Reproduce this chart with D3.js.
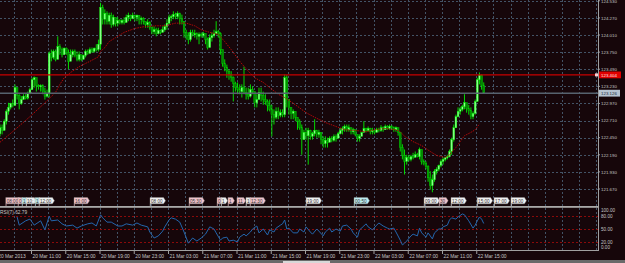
<!DOCTYPE html>
<html>
<head>
<script src="https://d3js.org/d3.v7.min.js"></script>
<style>
  body { margin: 0; background: #16060a; overflow: hidden; }
  svg text { font-family: "Liberation Sans", Arial, sans-serif; }
</style>
</head>
<body>
<script>
const width = 625, height = 263;
const plotRight = 598;

// M15 bars from 20 Mar 2013 07:00
const firstOpen = 122.45;
const closes = [
  122.51,122.60,122.56,122.70,122.85,122.91,122.97,122.94,123.21,123.09,
  122.97,123.03,123.08,123.05,123.12,123.18,123.33,123.36,123.24,123.23,
  123.24,123.15,123.08,123.12,123.73,123.67,123.76,123.64,123.84,123.79,
  123.71,123.81,123.74,123.61,123.71,123.76,123.70,123.64,123.71,123.64,
  123.70,123.76,123.73,123.79,123.76,123.81,123.79,123.87,124.43,124.25,
  124.34,124.22,124.31,124.17,124.28,124.19,124.23,124.20,124.23,124.20,
  124.28,124.31,124.26,124.31,124.28,124.31,124.25,124.26,124.22,124.17,
  124.20,124.12,124.06,124.09,124.03,124.08,124.05,124.09,124.14,124.19,
  124.28,124.29,124.32,124.29,124.34,124.26,124.22,124.05,124.00,123.94,
  124.05,124.02,124.03,123.99,124.02,124.00,124.03,123.94,123.82,123.97,
  124.00,124.03,124.06,124.03,123.79,123.58,123.52,123.46,123.41,123.36,
  123.27,123.21,123.18,123.15,123.21,123.14,123.11,123.08,123.18,123.15,
  122.98,123.03,123.14,123.09,123.03,123.00,122.94,122.88,122.80,122.76,
  122.85,122.79,122.83,122.80,123.36,123.03,122.91,122.82,122.85,122.76,
  122.70,122.60,122.42,122.53,122.48,122.56,122.47,122.51,122.56,122.50,
  122.53,122.42,122.36,122.41,122.38,122.44,122.41,122.47,122.44,122.51,
  122.56,122.59,122.62,122.57,122.60,122.54,122.57,122.50,122.44,122.47,
  122.53,122.59,122.56,122.59,122.54,122.56,122.53,122.57,122.56,122.60,
  122.57,122.62,122.59,122.62,122.60,122.57,122.60,122.53,122.30,122.18,
  122.09,122.15,122.12,122.16,122.15,122.19,122.16,122.27,122.09,122.06,
  122.01,121.84,121.72,121.81,121.94,121.97,122.03,122.09,122.12,122.15,
  122.16,122.24,122.42,122.60,122.77,122.85,122.88,122.92,122.98,122.89,
  122.86,122.77,122.82,123.00,123.33,123.40,123.24,123.13
];
const highs = [
  122.65,122.65,122.65,122.73,122.88,122.98,122.98,123.03,123.26,123.21,
  123.11,123.08,123.11,123.11,123.15,123.21,123.36,123.38,123.30,123.26,
  123.26,123.26,123.21,123.18,123.76,123.79,123.79,123.79,123.99,123.87,
  123.82,123.82,123.82,123.79,123.79,123.79,123.79,123.76,123.76,123.71,
  123.71,123.79,123.79,123.82,123.82,123.82,123.87,123.94,124.50,124.47,
  124.40,124.37,124.35,124.35,124.32,124.28,124.28,124.25,124.25,124.28,
  124.32,124.35,124.32,124.35,124.32,124.32,124.29,124.29,124.28,124.22,
  124.25,124.22,124.14,124.14,124.12,124.12,124.09,124.14,124.17,124.25,
  124.32,124.32,124.37,124.35,124.37,124.35,124.32,124.22,124.09,124.05,
  124.09,124.09,124.09,124.05,124.05,124.05,124.06,124.02,123.97,124.02,
  124.05,124.09,124.22,124.09,124.05,123.79,123.64,123.56,123.49,123.46,
  123.38,123.30,123.29,123.26,123.26,123.53,123.21,123.21,123.26,123.23,
  123.15,123.11,123.21,123.21,123.15,123.11,123.03,123.03,122.95,122.88,
  122.91,122.91,122.88,122.88,123.41,123.40,123.03,122.91,122.88,122.85,
  122.76,122.73,122.65,122.57,122.60,122.60,122.57,122.54,122.73,122.57,
  122.57,122.53,122.47,122.47,122.45,122.47,122.47,122.50,122.50,122.54,
  122.60,122.62,122.65,122.65,122.65,122.60,122.60,122.57,122.50,122.50,
  122.54,122.70,122.60,122.62,122.60,122.60,122.57,122.60,122.60,122.64,
  122.62,122.65,122.64,122.65,122.64,122.62,122.62,122.60,122.53,122.35,
  122.27,122.19,122.19,122.19,122.22,122.24,122.22,122.30,122.27,122.12,
  122.09,122.03,121.94,121.89,121.97,122.00,122.04,122.12,122.15,122.16,
  122.19,122.27,122.45,122.65,122.80,122.91,122.92,122.95,123.11,122.98,
  122.95,122.91,122.85,123.03,123.36,123.44,123.41,123.29
];
const lows = [
  122.47,122.47,122.50,122.57,122.65,122.80,122.88,122.91,122.95,123.03,
  122.88,122.95,123.03,123.03,123.03,123.11,123.18,123.21,123.15,123.18,
  123.15,123.11,123.03,123.06,123.06,123.61,123.64,123.61,123.64,123.71,
  123.67,123.71,123.71,123.49,123.61,123.67,123.67,123.61,123.61,123.61,
  123.64,123.67,123.71,123.74,123.74,123.74,123.76,123.76,123.79,124.17,
  124.17,124.17,124.17,124.12,124.14,124.14,124.14,124.17,124.17,124.17,
  124.22,124.22,124.22,124.25,124.22,124.22,124.17,124.17,124.17,124.12,
  124.12,124.09,124.02,124.02,123.99,124.02,124.02,124.05,124.06,124.09,
  124.17,124.22,124.25,124.25,124.25,124.17,124.17,123.97,123.94,123.87,
  123.91,123.99,123.97,123.94,123.87,123.97,123.97,123.87,123.79,123.87,
  123.91,123.97,124.02,123.97,123.71,123.53,123.46,123.36,123.33,123.30,
  123.00,123.15,123.11,123.11,123.06,123.11,123.03,123.03,123.06,123.11,
  122.91,122.91,123.03,123.00,122.95,122.95,122.85,122.85,122.47,122.65,
  122.73,122.73,122.76,122.76,122.76,122.91,122.80,122.73,122.73,122.70,
  122.57,122.57,122.19,122.42,122.42,122.04,122.42,122.42,122.47,122.45,
  122.45,122.35,122.30,122.30,122.30,122.38,122.38,122.39,122.39,122.45,
  122.50,122.50,122.54,122.54,122.54,122.50,122.50,122.47,122.39,122.39,
  122.47,122.53,122.53,122.54,122.50,122.50,122.50,122.53,122.53,122.54,
  122.54,122.57,122.57,122.57,122.57,122.54,122.54,122.48,122.24,122.12,
  121.89,122.04,122.09,122.09,122.12,122.15,122.15,122.12,122.04,122.03,
  121.97,121.78,121.66,121.62,121.78,121.89,121.94,122.00,122.04,122.09,
  122.12,122.15,122.19,122.39,122.60,122.76,122.80,122.85,122.88,122.83,
  122.80,122.73,122.73,122.80,123.00,123.26,123.18,123.14
];

// moving average (dark red dotted)
const maBars = [1,8,15,22,27,29,31,34,38,43,47,48,50,52,55,59,64,69,74,78,83,88,92,95,99,103,106,109,113,117,120,124,127,131,134,139,144,148,153,158,162,167,172,176,181,186,188,190,194,198,202,205,209,211,214,216,218,221,223,225];
const maValues = [122.38,122.57,122.77,122.98,123.14,123.26,123.36,123.44,123.53,123.61,123.68,123.76,123.82,123.91,123.97,124.05,124.11,124.14,124.15,124.15,124.19,124.19,124.15,124.09,124.05,124.02,123.91,123.79,123.61,123.46,123.36,123.29,123.21,123.11,123.06,122.95,122.83,122.76,122.68,122.62,122.57,122.56,122.54,122.57,122.59,122.57,122.54,122.47,122.39,122.33,122.24,122.18,122.15,122.19,122.30,122.39,122.48,122.53,122.57,122.66];

// RSI(7)
const rsiBars = [9,10,13,15,17,20,22,24,25,28,30,32,35,37,39,42,44,46,48,49,51,53,56,58,60,63,65,67,70,71,73,75,77,78,80,81,83,85,87,89,91,93,95,97,99,101,102,104,105,107,108,110,112,113,115,116,118,119,121,122,124,126,127,129,130,132,133,134,135,136,138,140,141,143,144,146,147,149,150,152,153,155,156,158,160,161,163,165,166,168,169,171,172,173,175,177,178,180,182,183,185,186,188,189,190,191,193,194,196,197,198,200,201,203,204,206,207,208,210,211,212,214,215,217,218,219,220,222,223,224,225,226,227];
const rsiValues = [78,59,69,73,59,69,48,80,69,71,62,57,59,52,57,62,64,57,83,76,66,66,57,57,62,59,64,59,55,43,29,34,45,55,71,76,73,66,43,17,29,22,29,38,55,50,41,24,29,31,22,24,20,31,38,34,43,50,57,41,50,36,48,43,52,59,62,71,50,52,41,41,50,43,55,43,38,50,45,34,43,52,43,50,45,57,59,50,41,31,48,57,62,55,48,59,64,57,52,50,52,43,24,13,17,22,34,38,34,52,41,31,41,27,41,50,50,55,59,71,76,73,78,85,83,76,69,52,59,69,78,73,62.79];
const rsiLevels = [80, 50, 20];
const rsiLabels = ["100.00", "80.00", "50.00", "20.00", "0.00"];
const rsiLabelValues = [100, 80, 50, 20, 0];

const priceTicks = [124.53,124.27,124.01,123.75,123.49,123.23,122.97,122.71,122.45,122.19,121.93,121.67];
const redLevel = 123.404;
const bidLevel = 123.126;

const timeLabels = ["20 Mar 2013","20 Mar 11:00","20 Mar 15:00","20 Mar 19:00","20 Mar 23:00",
  "21 Mar 03:00","21 Mar 07:00","21 Mar 11:00","21 Mar 15:00","21 Mar 19:00","21 Mar 23:00",
  "22 Mar 03:00","22 Mar 07:00","22 Mar 11:00","22 Mar 15:00"];
const timeLabelBars = [0,16,32,48,64,80,96,112,128,144,160,176,192,208,224];

// event tags as they show on the chart (crowded ones are cut short): [bar, text, kind]
const events = [
  [4.2,"08:00","pink"],[9.9,"0","pink"],[11.8,"1","cyan"],[13.7,"10:","white"],
  [17.9,"1","cyan"],[19.7,"12:00","white"],[36.1,"16:00","pink"],[71.6,"08:00","white"],
  [89.8,"05:30","pink"],[102.9,"0","pink"],[104.8,"1","white"],[108.0,"1","pink"],
  [112.2,"11","pink"],[116.4,"1","white"],[118.3,"12:30","pink"],[144.5,"19:00","white"],
  [166.9,"00:50","cyan"],[199.6,"09:00","white"],[206.6,"30","pink"],[212.2,"12:00","white"],
  [224.4,"15:00","white"],[232.3,"17:00","white"],[240.2,"19:00","white"]
];
const tagFill = { pink: "#f2c4cc", white: "#f2f2f2", cyan: "#bfeef2" };

const svg = d3.select("body").append("svg")
  .attr("width", width).attr("height", height);

svg.append("rect").attr("width", width).attr("height", height).attr("fill", "#16060a");

const xScale = d3.scaleLinear().domain([0, 16]).range([-3.25, 31]);
const barW = xScale(1) - xScale(0);
const y = d3.scaleLinear().domain([121.67, 124.27]).range([189, 17.9]);
const yRsi = d3.scaleLinear().domain([0, 100]).range([250.5, 207.5]);

const defs = svg.append("defs");
defs.append("clipPath").attr("id", "mainClip").append("rect")
  .attr("x", 0).attr("y", 0).attr("width", plotRight).attr("height", 206);
defs.append("clipPath").attr("id", "rsiClip").append("rect")
  .attr("x", 0).attr("y", 208).attr("width", plotRight).attr("height", 42);

const gridColor = "#435366";

// vertical grid
const gridBars = d3.range(8, 288, 8).filter(b => xScale(b) < plotRight - 1);
svg.append("g").selectAll("line").data(gridBars).join("line")
  .attr("x1", d => Math.round(xScale(d)) + 0.5).attr("x2", d => Math.round(xScale(d)) + 0.5)
  .attr("y1", 0).attr("y2", 250)
  .attr("stroke", gridColor).attr("stroke-width", 1).attr("stroke-dasharray", "2,2");

// horizontal price grid
svg.append("g").selectAll("line").data(priceTicks).join("line")
  .attr("x1", 0).attr("x2", plotRight)
  .attr("y1", d => Math.round(y(d)) + 0.5).attr("y2", d => Math.round(y(d)) + 0.5)
  .attr("stroke", gridColor).attr("stroke-width", 1).attr("stroke-dasharray", "2,2");

// rsi levels
svg.append("g").selectAll("line").data(rsiLevels).join("line")
  .attr("x1", 0).attr("x2", plotRight)
  .attr("y1", d => Math.round(yRsi(d)) + 0.5).attr("y2", d => Math.round(yRsi(d)) + 0.5)
  .attr("stroke", "#8a0a0a").attr("stroke-width", 1).attr("stroke-dasharray", "2,2");

// candles
const bars = closes.map((c, i) => {
  const o = i === 0 ? firstOpen : closes[i - 1];
  return { i, o, c, h: Math.max(highs[i], o, c), l: Math.min(lows[i], o, c) };
});
const candles = svg.append("g").attr("clip-path", "url(#mainClip)");
candles.selectAll("line").data(bars).join("line")
  .attr("x1", d => xScale(d.i) + barW / 2).attr("x2", d => xScale(d.i) + barW / 2)
  .attr("y1", d => y(d.h)).attr("y2", d => y(d.l))
  .attr("stroke", "#00f000").attr("stroke-width", 0.9);
candles.selectAll("rect").data(bars).join("rect")
  .attr("x", d => xScale(d.i) + barW / 2 - 0.9)
  .attr("width", 1.8)
  .attr("y", d => y(Math.max(d.o, d.c)))
  .attr("height", d => Math.max(1, y(Math.min(d.o, d.c)) - y(Math.max(d.o, d.c))))
  .attr("fill", d => d.c >= d.o ? "#8cff8c" : "#008c00")
  .attr("stroke", d => d.c >= d.o ? "#00ff00" : "#00d000").attr("stroke-width", 0.4);

// moving average
svg.append("path").datum(maBars.map((b, k) => [b, maValues[k]]))
  .attr("clip-path", "url(#mainClip)")
  .attr("d", d3.line().x(d => xScale(d[0]) + barW / 2).y(d => y(d[1])))
  .attr("fill", "none").attr("stroke", "#b00808").attr("stroke-width", 1)
  .attr("stroke-dasharray", "1.5,1");

// price lines
svg.append("line").attr("x1", 0).attr("x2", plotRight)
  .attr("y1", y(redLevel)).attr("y2", y(redLevel))
  .attr("stroke", "#c80000").attr("stroke-width", 1.3);
svg.append("line").attr("x1", 0).attr("x2", plotRight)
  .attr("y1", y(bidLevel)).attr("y2", y(bidLevel))
  .attr("stroke", "#56626e").attr("stroke-width", 1.6);
svg.append("rect").attr("x", 595).attr("y", y(redLevel) - 1.5).attr("width", 3).attr("height", 3)
  .attr("fill", "#ffd0d0");

// event tags
const tags = svg.append("g");
events.forEach(([b, txt, kind]) => {
  const x0 = xScale(b), y0 = 197.6, h = 6.2;
  const g = tags.append("g");
  const t = g.append("text").attr("x", x0 + 1).attr("y", y0 + 4.9)
    .attr("font-size", 4.6).attr("fill", "#333").text(txt);
  const w = t.node().getComputedTextLength() + 2;
  g.insert("path", "text")
    .attr("d", `M${x0},${y0} H${x0 + w} L${x0 + w + 2},${y0 + h / 2} L${x0 + w},${y0 + h} H${x0} Z`)
    .attr("fill", tagFill[kind]).attr("stroke", "#8a8a8a").attr("stroke-width", 0.4);
  g.append("line").attr("x1", x0 + 0.3).attr("x2", x0 + 0.3)
    .attr("y1", y0 + h).attr("y2", 206)
    .attr("stroke", tagFill[kind]).attr("stroke-width", 0.7);
});

// RSI line
svg.append("path").datum(rsiBars.map((b, k) => [b, rsiValues[k]]))
  .attr("clip-path", "url(#rsiClip)")
  .attr("d", d3.line().x(d => xScale(d[0]) + barW / 2).y(d => yRsi(d[1])))
  .attr("fill", "none").attr("stroke", "#2366ad").attr("stroke-width", 1);

svg.append("text").attr("x", 0).attr("y", 213.5).attr("font-size", 4.8)
  .attr("fill", "#c8c8c8").text("RSI(7) " + rsiValues[rsiValues.length - 1].toFixed(2));

// panel frame
svg.append("rect").attr("x", 0).attr("y", 206).attr("width", plotRight + 1).attr("height", 1.8)
  .attr("fill", "#a9a9a9");
svg.append("line").attr("x1", 0).attr("x2", plotRight + 1).attr("y1", 250.5).attr("y2", 250.5)
  .attr("stroke", "#a0a0a0").attr("stroke-width", 1.2);
svg.append("line").attr("x1", plotRight + 0.5).attr("x2", plotRight + 0.5).attr("y1", 0).attr("y2", 251)
  .attr("stroke", "#a0a0a0").attr("stroke-width", 1);

// right price axis
const axisColor = "#c4c4c4";
svg.append("g").selectAll("text").data(priceTicks).join("text")
  .attr("x", 601).attr("y", d => y(d) + 1.8)
  .attr("font-size", 4.4).attr("fill", axisColor).text(d => d.toFixed(3));
svg.append("g").selectAll("line").data(priceTicks).join("line")
  .attr("x1", plotRight).attr("x2", plotRight + 2)
  .attr("y1", d => y(d)).attr("y2", d => y(d)).attr("stroke", "#a0a0a0");

svg.append("rect").attr("x", 599).attr("y", y(redLevel) - 3.4).attr("width", 22).attr("height", 6.8)
  .attr("fill", "#e00000");
svg.append("text").attr("x", 601).attr("y", y(redLevel) + 1.8).attr("font-size", 4.4)
  .attr("fill", "#ffe4e4").text(redLevel.toFixed(3));
svg.append("rect").attr("x", 599).attr("y", y(bidLevel) - 3.4).attr("width", 21).attr("height", 6.8)
  .attr("fill", "#b5c3d1");
svg.append("text").attr("x", 601).attr("y", y(bidLevel) + 1.8).attr("font-size", 4.4)
  .attr("fill", "#1c2a38").text(bidLevel.toFixed(3));

// rsi axis labels
svg.append("g").selectAll("text").data(rsiLabelValues).join("text")
  .attr("x", 601)
  .attr("y", (d, k) => Math.min(Math.max(yRsi(d) + 1.8, 211.5), 248.5))
  .attr("font-size", 4.6).attr("fill", axisColor).text((d, k) => rsiLabels[k]);

// time axis
svg.append("g").selectAll("line").data(timeLabelBars).join("line")
  .attr("x1", d => xScale(d) + 0.5).attr("x2", d => xScale(d) + 0.5)
  .attr("y1", 250.5).attr("y2", 254).attr("stroke", "#a0a0a0");
svg.append("g").selectAll("text").data(timeLabelBars).join("text")
  .attr("x", d => xScale(d) + 1.5).attr("y", 257.8)
  .attr("font-size", 4.9).attr("fill", axisColor).text((d, k) => timeLabels[k]);

// bottom strip
svg.append("rect").attr("x", 0).attr("y", 260).attr("width", width).attr("height", 3).attr("fill", "#6a6a6a");
svg.append("rect").attr("x", 283).attr("y", 261).attr("width", 47).attr("height", 2).attr("fill", "#d8d8d8");
</script>
</body>
</html>
